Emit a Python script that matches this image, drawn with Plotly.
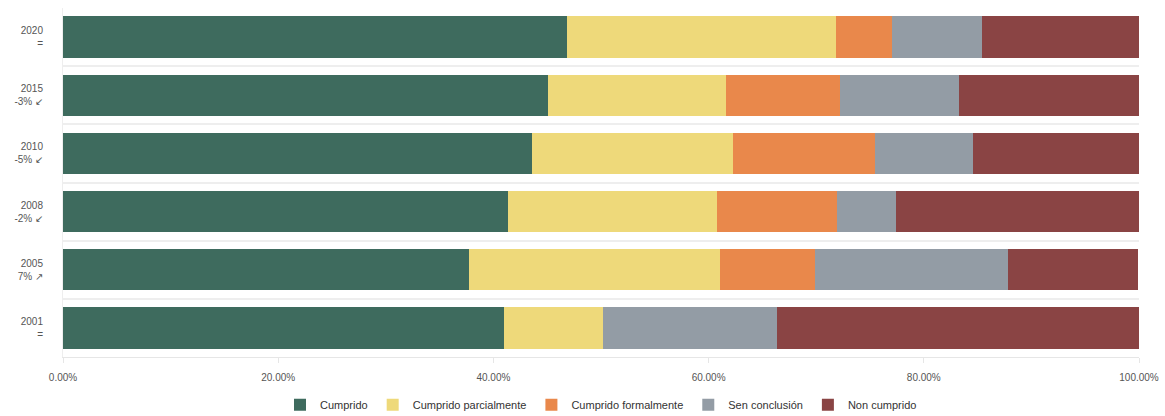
import plotly.graph_objects as go

# Periods, bottom to top
years = ["2001", "2005", "2008", "2010", "2015", "2020"]
changes = ["=", "7% ↗", "-2% ↙", "-5% ↙", "-3% ↙", "="]

# Share of commitments by status (%)
cumprido = [41.0, 37.7, 41.4, 43.6, 45.1, 46.8]
parcialmente = [9.2, 23.4, 19.4, 18.7, 16.5, 25.0]
formalmente = [0.0, 8.8, 11.1, 13.2, 10.6, 5.2]
sen_conclusion = [16.2, 17.9, 5.5, 9.1, 11.1, 8.4]
non_cumprido = [33.6, 12.1, 22.7, 15.4, 16.8, 14.6]

# Percentage axis ticks
x_ticks = [0, 20, 40, 60, 80, 100]
x_tick_labels = ["0.00%", "20.00%", "40.00%", "60.00%", "80.00%", "100.00%"]

series = [
    ("Cumprido", cumprido, "#3e6b5e"),
    ("Cumprido parcialmente", parcialmente, "#eed97a"),
    ("Cumprido formalmente", formalmente, "#e9884b"),
    ("Sen conclusión", sen_conclusion, "#939ca5"),
    ("Non cumprido", non_cumprido, "#8a4444"),
]

labels = [f"{y}<br>{c}" for y, c in zip(years, changes)]

fig = go.Figure()
for name, vals, color in series:
    fig.add_trace(go.Bar(
        y=labels, x=vals, name=name, orientation="h",
        marker=dict(color=color, line=dict(width=0)),
        hovertemplate="%{x:.2f}%<extra>" + name + "</extra>",
    ))

fig.update_layout(
    barmode="stack",
    bargap=0.29,
    width=1165, height=416,
    margin=dict(l=63, r=26, t=8, b=59, autoexpand=False),
    paper_bgcolor="white", plot_bgcolor="white",
    font=dict(family="Liberation Sans, Arial, sans-serif", size=10, color="#555"),
    legend=dict(
        orientation="h", x=0.5, xanchor="center", y=-0.095, yanchor="top",
        font=dict(size=11, color="#333"), itemwidth=30,
        traceorder="normal", itemclick=False,
    ),
    showlegend=True,
)
fig.update_xaxes(
    range=[0, 100], tickvals=x_ticks, ticktext=x_tick_labels,
    showgrid=False, zeroline=False,
    showline=True, linecolor="#e6e6e6", linewidth=1,
    ticks="outside", ticklen=5, tickcolor="#e6e6e6",
    ticklabelstandoff=6,
    tickfont=dict(size=10, color="#555"),
)
fig.update_yaxes(
    type="category", categoryorder="array", categoryarray=labels,
    tickson="boundaries", showgrid=True, gridcolor="#eeeeee", gridwidth=2,
    ticks="", showline=True, linecolor="#eeeeee", linewidth=1,
    ticklabelstandoff=17,
    tickfont=dict(size=10, color="#555"),
)

fig.write_html("out.html")
